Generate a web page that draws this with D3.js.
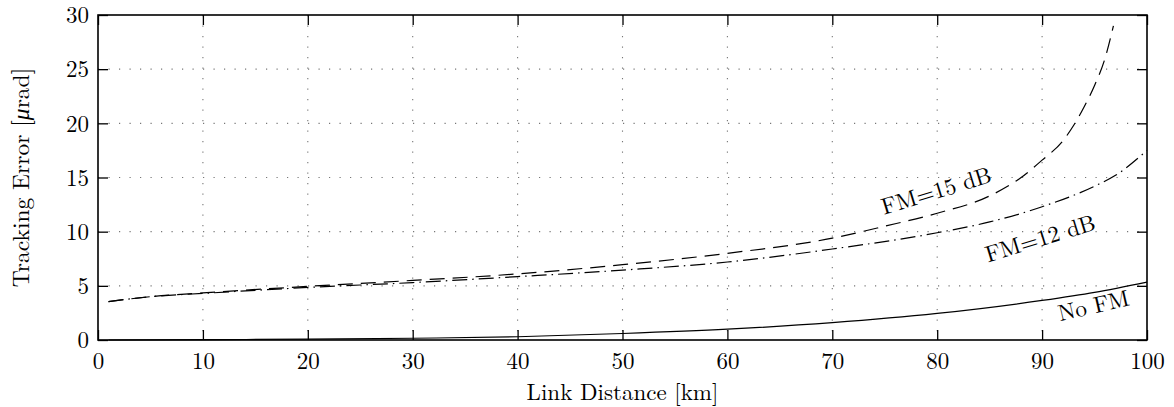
<!DOCTYPE html>
<html>
<head>
<meta charset="utf-8">
<script src="https://cdn.jsdelivr.net/npm/d3@7"></script>
<style>
  body { margin: 0; background: #fff; }
</style>
</head>
<body>
<svg id="chart" width="1174" height="407"></svg>
<script>
// Data
const xTicks = [0, 10, 20, 30, 40, 50, 60, 70, 80, 90, 100];
const yTicks = [0, 5, 10, 15, 20, 25, 30];

// FM = 15 dB (dashed)
const fm15X = [1, 5, 10, 20, 30, 40, 50, 60, 70, 75, 80, 85, 88, 90, 92, 93, 94, 95, 96, 96.8];
const fm15Y = [3.55, 4.0, 4.35, 4.95, 5.5, 6.1, 6.95, 8.0, 9.4, 10.5, 11.7, 13.3, 15.0, 16.6, 18.4, 19.8, 21.5, 23.5, 26.0, 29.0];

// FM = 12 dB (dash-dot)
const fm12X = [1, 5, 10, 20, 30, 40, 50, 60, 70, 80, 85, 90, 95, 97, 100];
const fm12Y = [3.55, 4.0, 4.3, 4.85, 5.3, 5.85, 6.45, 7.2, 8.4, 9.9, 10.9, 12.3, 14.2, 15.2, 17.5];

// No FM (solid)
const noFmX = [1, 10, 20, 30, 40, 50, 60, 70, 80, 90, 95, 100];
const noFmY = [0.0, 0.03, 0.08, 0.16, 0.3, 0.6, 1.0, 1.6, 2.45, 3.65, 4.4, 5.35];

const FONT = "Latin Modern Roman";

const margin = { top: 15, right: 27, bottom: 67, left: 98 };
const width = 1174 - margin.left - margin.right;
const height = 407 - margin.top - margin.bottom;

const svg = d3.select("#chart");
const g = svg.append("g").attr("transform", `translate(${margin.left},${margin.top})`);

const x = d3.scaleLinear().domain([0, 100]).range([0, width]);
const y = d3.scaleLinear().domain([0, 30]).range([height, 0]);

// dotted grid
g.append("g").selectAll("line")
    .data(xTicks.slice(1, -1))
    .enter().append("line")
    .attr("x1", d => x(d)).attr("x2", d => x(d))
    .attr("y1", 0).attr("y2", height)
    .attr("stroke", "#777").attr("stroke-width", 1.1)
    .attr("stroke-dasharray", "1.2,9.3");

g.append("g").selectAll("line")
    .data(yTicks.slice(1, -1))
    .enter().append("line")
    .attr("y1", d => y(d)).attr("y2", d => y(d))
    .attr("x1", 0).attr("x2", width)
    .attr("stroke", "#777").attr("stroke-width", 1.1)
    .attr("stroke-dasharray", "1.2,9.3");

// axes with inward ticks
const bottomAxis = g.append("g").attr("transform", `translate(0,${height})`)
    .call(d3.axisBottom(x).tickValues(xTicks).tickSize(-10).tickSizeOuter(0).tickPadding(13));
const leftAxis = g.append("g")
    .call(d3.axisLeft(y).tickValues(yTicks).tickSize(-10).tickSizeOuter(0).tickPadding(9));
const topAxis = g.append("g")
    .call(d3.axisTop(x).tickValues(xTicks).tickSize(-10).tickSizeOuter(0).tickFormat(""));
const rightAxis = g.append("g").attr("transform", `translate(${width},0)`)
    .call(d3.axisRight(y).tickValues(yTicks).tickSize(-10).tickSizeOuter(0).tickFormat(""));

[bottomAxis, leftAxis, topAxis, rightAxis].forEach(a => {
    a.attr("font-family", FONT).attr("font-size", 23);
    a.select(".domain").remove();
    a.selectAll(".tick line").attr("stroke", "#000").attr("stroke-width", 1.3);
    a.selectAll("text").attr("fill", "#000")
        .style("font-family", FONT).style("font-size", "23px");
});
leftAxis.selectAll("text").attr("dy", "0.34em");

// frame
g.append("rect")
    .attr("x", 0).attr("y", 0)
    .attr("width", width).attr("height", height)
    .attr("fill", "none").attr("stroke", "#000").attr("stroke-width", 1.6);

// curves
const line = d3.line()
    .x(d => x(d[0]))
    .y(d => y(d[1]))
    .curve(d3.curveMonotoneX);

const series = [
    { xs: fm15X, ys: fm15Y, dash: "15,8" },
    { xs: fm12X, ys: fm12Y, dash: "15,5,1.5,5" },
    { xs: noFmX, ys: noFmY, dash: null }
];

series.forEach(s => {
    g.append("path")
        .datum(s.xs.map((v, i) => [v, s.ys[i]]))
        .attr("d", line)
        .attr("fill", "none")
        .attr("stroke", "#000")
        .attr("stroke-width", 1.2)
        .attr("stroke-dasharray", s.dash);
});

// curve labels
const labels = [
    { text: "FM=15 dB", at: [79.9, 13.8], angle: -17 },
    { text: "FM=12 dB", at: [89.8, 9.4], angle: -17 },
    { text: "No FM", at: [94.9, 3.2], angle: -13 }
];
labels.forEach(l => {
    g.append("text")
        .attr("transform", `translate(${x(l.at[0])},${y(l.at[1])}) rotate(${l.angle})`)
        .attr("text-anchor", "middle")
        .attr("dy", "0.35em")
        .style("font-family", FONT)
        .style("font-size", "23px")
        .text(l.text);
});

// axis titles
svg.append("text")
    .attr("x", margin.left + width / 2)
    .attr("y", 400)
    .attr("text-anchor", "middle")
    .style("font-family", FONT)
    .style("font-size", "23px")
    .text("Link Distance [km]");

const yTitle = svg.append("text")
    .attr("transform", `translate(29,${margin.top + height / 2}) rotate(-90)`)
    .attr("text-anchor", "middle")
    .style("font-family", FONT)
    .style("font-size", "23.5px");
yTitle.append("tspan").text("Tracking Error [");
yTitle.append("tspan").style("font-style", "italic").text("μ");
yTitle.append("tspan").text("rad]");
</script>
</body>
</html>
